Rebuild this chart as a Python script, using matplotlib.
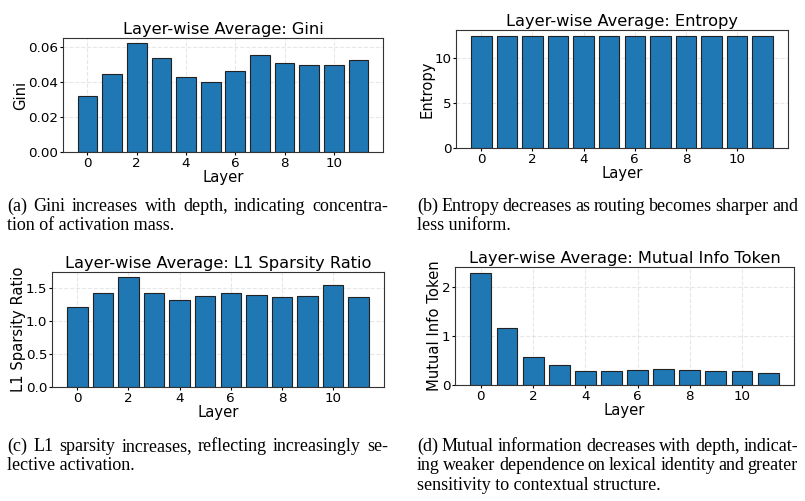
import matplotlib
matplotlib.use("Agg")
import matplotlib.pyplot as plt

layers = list(range(12))
gini = [0.0318, 0.0447, 0.0619, 0.0537, 0.0429, 0.0398, 0.0459, 0.0552, 0.0507, 0.0495, 0.0495, 0.0524]
entropy = [12.45, 12.45, 12.45, 12.45, 12.45, 12.45, 12.45, 12.42, 12.45, 12.45, 12.45, 12.45]
l1_ratio = [1.216, 1.429, 1.661, 1.429, 1.322, 1.383, 1.418, 1.393, 1.368, 1.383, 1.545, 1.363]
mutual_info = [2.30, 1.16, 0.567, 0.403, 0.280, 0.287, 0.300, 0.328, 0.300, 0.280, 0.280, 0.252]

metric_names = ["Gini", "Entropy", "L1 Sparsity Ratio", "Mutual Info Token"]

captions = [
    ["(a) Gini increases with depth, indicating concentra-",
     "tion of activation mass."],
    ["(b) Entropy decreases as routing becomes sharper and",
     "less uniform."],
    ["(c) L1 sparsity increases, reflecting increasingly se-",
     "lective activation."],
    ["(d) Mutual information decreases with depth, indicat-",
     "ing weaker dependence on lexical identity and greater",
     "sensitivity to contextual structure."],
]

W, H = 805, 501
fig = plt.figure(figsize=(W / 100, H / 100), dpi=100)

# axes boxes in pixels: left, right, top, bottom
boxes = [(63, 383, 38, 152), (456, 788, 30, 148), (52, 384, 272, 387), (455, 794, 267, 385)]
data = [gini, entropy, l1_ratio, mutual_info]


def add_axes_px(l, r, t, b):
    return fig.add_axes([l / W, 1 - b / H, (r - l) / W, (b - t) / H])


for (l, r, t, b), vals, name in zip(boxes, data, metric_names):
    ax = add_axes_px(l, r, t, b)
    ax.bar(layers, vals, color="#1f77b4", edgecolor="#222222", linewidth=0.8)
    ax.set_axisbelow(True)
    ax.grid(True, linestyle="--", alpha=0.3)
    ax.set_title(f"Layer-wise Average: {name}", fontsize=11.7, pad=3)
    ax.set_xlabel("Layer", fontsize=10.6, labelpad=0)
    ax.set_ylabel(name, fontsize=10.6, labelpad=0)
    ax.tick_params(labelsize=9.7, length=2.5, pad=1)
    ax.set_xticks([0, 2, 4, 6, 8, 10])
    for s in ax.spines.values():
        s.set_color("#333333")

renderer = fig.canvas.get_renderer()


def justify(words, x0, x1, y, full):
    kw = dict(family="Liberation Serif", fontsize=13, va="baseline", ha="left")
    if not full:
        fig.text(x0 / W, 1 - y / H, " ".join(words), **kw)
        return
    texts = [fig.text(0, 1 - y / H, w, **kw) for w in words]
    widths = [t.get_window_extent(renderer).width for t in texts]
    gap = (x1 - x0 - sum(widths)) / max(len(words) - 1, 1)
    x = x0
    for t, w in zip(texts, widths):
        t.set_x(x / W)
        x += w + gap


caption_pos = [(7, 388, 211), (417, 798, 211), (7, 388, 451), (417, 798, 451)]
for (x0, x1, y0), lines in zip(caption_pos, captions):
    for i, line in enumerate(lines):
        justify(line.split(" "), x0, x1, y0 + 19.5 * i, i < len(lines) - 1)

fig.savefig("out.png", dpi=100)
